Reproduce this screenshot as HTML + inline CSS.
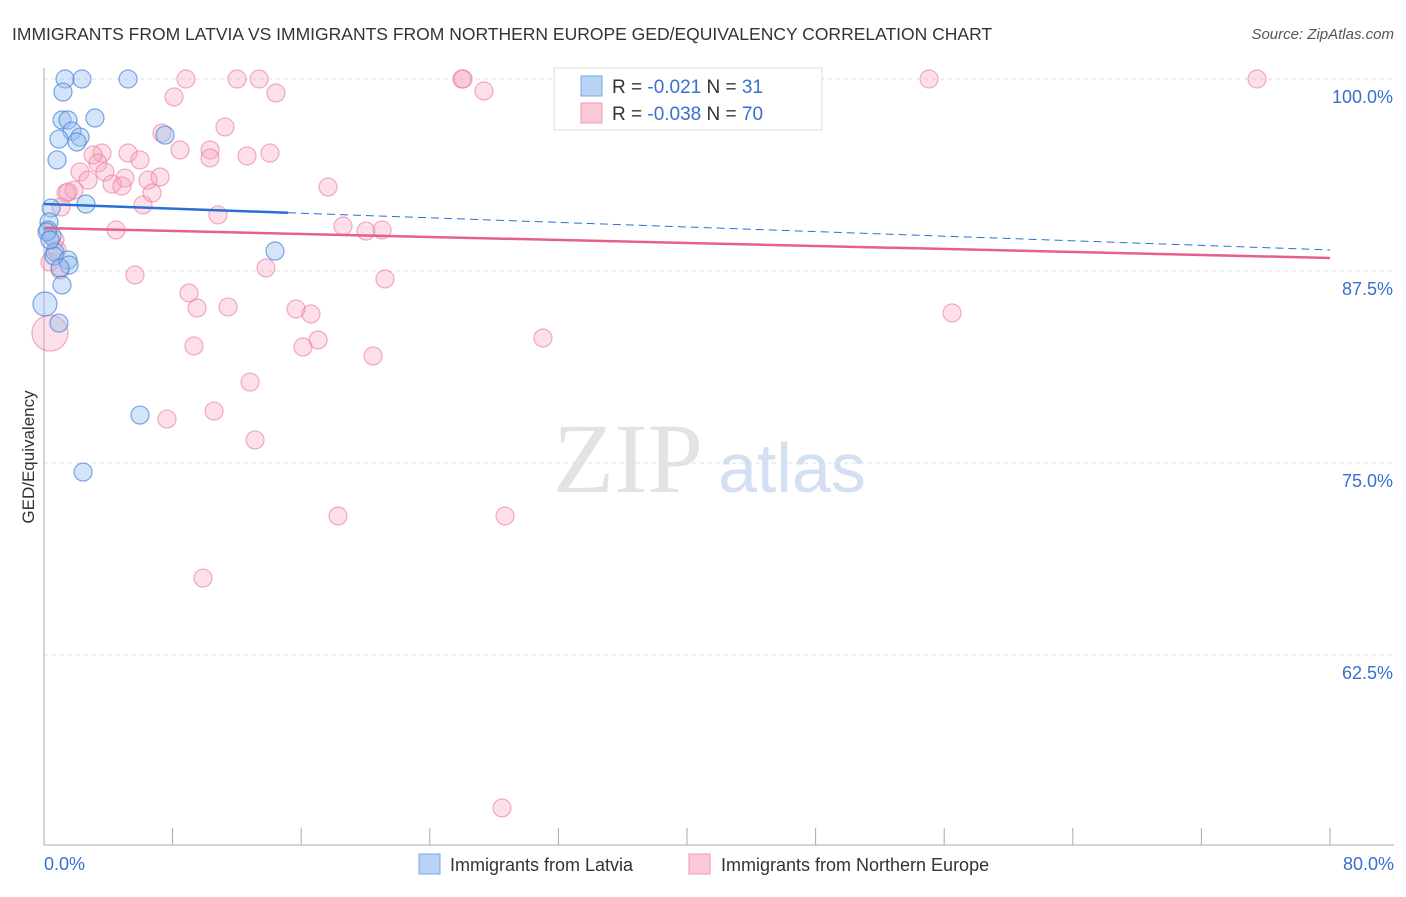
<!DOCTYPE html>
<html><head><meta charset="utf-8"><style>
body{margin:0;background:#fff;font-family:"Liberation Sans",sans-serif}
</style></head><body>
<svg width="1406" height="892" xmlns="http://www.w3.org/2000/svg">
<text x="12" y="40" font-size="17.5" fill="#333">IMMIGRANTS FROM LATVIA VS IMMIGRANTS FROM NORTHERN EUROPE GED/EQUIVALENCY CORRELATION CHART</text>
<text x="1394" y="39" font-size="15" fill="#555" font-style="italic" text-anchor="end">Source: ZipAtlas.com</text>
<g><text x="553" y="492" font-size="100" font-family="Liberation Serif" fill="#ddd" opacity="0.8">ZIP</text><text x="718" y="492" font-size="70" fill="#c9d9ef" opacity="0.8">atlas</text></g>
<g id="grid"></g><g id="axes"></g><g id="pts"></g><g id="trend"></g>
<text transform="translate(34,457) rotate(-90)" font-size="17" fill="#333" text-anchor="middle">GED/Equivalency</text>
<g>
<rect x="554" y="68" width="268" height="62" fill="#fff" stroke="#ddd"/>
<rect x="581" y="76" width="21" height="20" fill="#b9d3f5" stroke="#7aa7e6"/>
<rect x="581" y="103" width="21" height="20" fill="#fbc8d8" stroke="#ef9ab5"/>
<text x="612" y="93" font-size="19" fill="#333">R = <tspan fill="#3a6fd0">-0.021</tspan>   N = <tspan fill="#3a6fd0"> 31</tspan></text>
<text x="612" y="120" font-size="19" fill="#333">R = <tspan fill="#3a6fd0">-0.038</tspan>   N = <tspan fill="#3a6fd0">70</tspan></text>
</g>
<g>
<rect x="419" y="854" width="21" height="20" fill="#b9d3f5" stroke="#7aa7e6"/>
<text x="450" y="871" font-size="18" fill="#333">Immigrants from Latvia</text>
<rect x="689" y="854" width="21" height="20" fill="#fbc8d8" stroke="#ef9ab5"/>
<text x="721" y="871" font-size="18" fill="#333">Immigrants from Northern Europe</text>
</g>
</svg>
<script>
const yTicks=[100,87.5,75,62.5];
const yTickLabels=["100.0%","87.5%","75.0%","62.5%"];
const xLabels=["0.0%","80.0%"];
const blueX=[1.31,2.36,5.23,1.18,1.12,1.49,3.17,1.74,2.24,2.05,0.93,0.81,7.53,2.61,0.44,0.31,0.25,0.50,0.19,0.68,0.62,1.49,1.56,1.00,14.37,1.12,0.06,0.93,5.97,2.43,0.37];
const blueY=[100,100,100,99.15,97.33,97.33,97.46,96.61,96.22,95.90,96.09,94.73,96.35,91.86,91.60,90.69,90.17,89.78,90.04,88.74,88.48,88.22,87.89,87.70,88.80,86.59,85.35,84.11,78.12,74.41,89.52];
const pinkX=[8.83,12.01,13.38,26.0,26.07,55.06,75.46,33.03,8.09,14.43,27.37,11.26,7.34,8.46,5.23,3.61,3.05,5.97,10.33,10.33,12.63,14.06,3.36,2.24,3.79,5.04,6.47,7.22,2.74,4.23,4.85,1.37,1.87,1.49,6.72,17.67,6.16,1.06,10.82,4.48,18.60,20.03,21.03,0.68,0.37,5.66,13.81,21.21,9.02,9.52,11.45,15.68,16.61,17.05,16.11,9.33,20.47,31.04,56.49,12.82,10.58,7.65,13.13,18.29,28.68,9.89,28.49,0.37,0.81,1.00];
const pinkY=[100,100,100,100,100,100,100,100,98.83,99.09,99.22,96.88,96.48,95.38,95.18,95.18,95.05,94.73,95.38,94.86,94.99,95.18,94.53,93.95,93.95,93.55,93.42,93.62,93.42,93.16,93.03,92.58,92.77,92.64,92.58,92.97,91.80,91.67,91.15,90.17,90.43,90.10,90.17,89.52,88.09,87.24,87.70,86.98,86.07,85.09,85.16,85.03,84.70,83.01,82.55,82.62,81.97,83.14,84.77,80.27,78.38,77.86,76.50,71.55,71.55,67.51,52.54,83.46,88.87,87.57];
const blueTrend=[91.86,88.87], blueSolidEnd=15.18;
const pinkTrend=[90.30,88.35];
const NS="http://www.w3.org/2000/svg";
const sx=v=>44+v/80*1286, sy=v=>79+(100-v)/12.5*192;
function mk(t,a,p){const e=document.createElementNS(NS,t);for(const k in a)e.setAttribute(k,a[k]);document.getElementById(p).appendChild(e);return e;}
yTicks.forEach((t,i)=>{
 const g=mk('line',{x1:44,x2:1394,y1:sy(t),y2:sy(t),stroke:'#ddd','stroke-dasharray':'4,4'},'grid');
 
 
 const l=mk('text',{x:1393,y:sy(t)+24,'font-size':18,fill:'#3a6fd0','text-anchor':'end'},'grid');
 l.textContent=yTickLabels[i];
 
 
});
const ax=mk('line',{x1:44,x2:44,y1:68,y2:845,stroke:'#aaa'},'axes');


const bx=mk('line',{x1:44,x2:1394,y1:845,y2:845,stroke:'#aaa'},'axes');


for(let i=0;i<=10;i++){const t=mk('line',{x1:sx(i*8),x2:sx(i*8),y1:828,y2:845,stroke:'#aaa'},'axes');
 
 }
[[0,'start',44],[80,'end',1394]].forEach((d,i)=>{const t=mk('text',{x:d[2],y:870,'font-size':18,fill:'#3a6fd0','text-anchor':d[1]},'axes');t.textContent=xLabels[i];
 
 });
pinkX.forEach((x,i)=>{const r=(i==67)?18:9;const c=mk('circle',{cx:sx(x),cy:sy(pinkY[i]),r:r,fill:'rgba(246,164,190,0.35)',stroke:'rgba(234,120,155,0.6)','stroke-width':1.2},'pts');
 
 });
blueX.forEach((x,i)=>{const r=(i==26)?12:9;const c=mk('circle',{cx:sx(x),cy:sy(blueY[i]),r:r,fill:'rgba(150,190,240,0.4)',stroke:'rgba(70,130,215,0.7)','stroke-width':1.2},'pts');
 
 });
const by=x=>blueTrend[0]+(blueTrend[1]-blueTrend[0])*x/80;
const b1=mk('line',{x1:sx(0),y1:sy(by(0)),x2:sx(blueSolidEnd),y2:sy(by(blueSolidEnd)),stroke:'#2b6fd6','stroke-width':2.5},'trend');


const b2=mk('line',{x1:sx(blueSolidEnd),y1:sy(by(blueSolidEnd)),x2:sx(80),y2:sy(by(80)),stroke:'#2b6fd6','stroke-width':1,'stroke-dasharray':'8,5'},'trend');


const p1=mk('line',{x1:sx(0),y1:sy(pinkTrend[0]),x2:sx(80),y2:sy(pinkTrend[1]),stroke:'#e5608f','stroke-width':2.5},'trend');


</script>
</body></html>
